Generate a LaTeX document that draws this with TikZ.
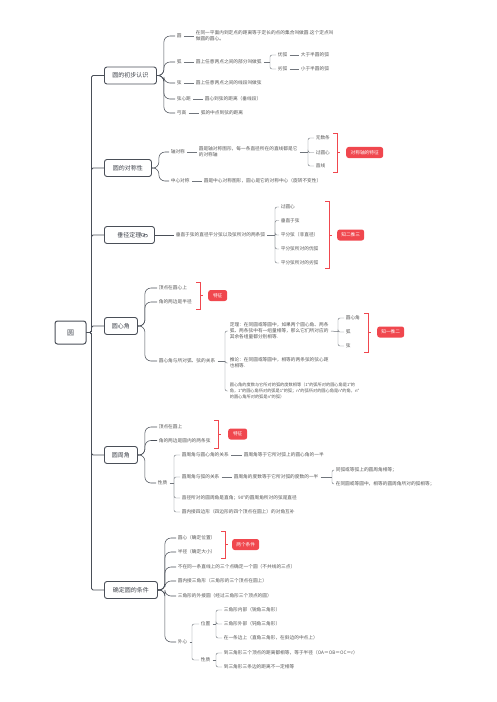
\documentclass[tikz,border=0pt]{standalone}
\usepackage{fontspec}
\setmainfont{Noto Sans CJK SC}
\definecolor{dk}{HTML}{4A4F58}
\definecolor{ln}{HTML}{70757C}
\definecolor{tx}{HTML}{555555}
\definecolor{rd}{HTML}{F0474E}
\begin{document}
\begin{tikzpicture}[x=1pt,y=-1pt,
  l1/.style={draw=dk, line width=0.9pt, rounded corners=2.5pt, fill=white, text=dk!85!black, font=\fontsize{6}{7}\selectfont, minimum height=17pt, inner xsep=0pt, anchor=west},
  t/.style={anchor=west, inner sep=0.6pt, text=tx, font=\fontsize{4.7}{6}\selectfont, align=left},
  tag/.style={fill=rd, text=white, rounded corners=2.5pt, font=\fontsize{4.7}{6}\selectfont, inner xsep=0pt, minimum height=9pt, anchor=west},
  trunk/.style={draw=dk, line width=0.9pt, rounded corners=1.5pt},
  c1/.style={draw=dk, line width=0.55pt, rounded corners=6pt, shorten >=1pt},
  c2/.style={draw=ln, line width=0.45pt, rounded corners=2pt, shorten >=1pt},
  lk/.style={draw=ln, line width=0.5pt, shorten <=1.5pt, shorten >=1.5pt},
  lks/.style={draw=ln, line width=0.5pt, shorten <=1.5pt},
  brk/.style={draw=rd, line width=0.7pt}]
\useasboundingbox (0,0) rectangle (497,702);

% root and level 1
\node[draw=dk, line width=1pt, rounded corners=2.5pt, fill=white, minimum width=31pt, minimum height=23pt, font=\fontsize{7}{8}\selectfont, text=dk] (root) at (70.5,332.5) {圆};
\node[l1, minimum width=52pt] (b1) at (104,75.5) {圆的初步认识};
\node[l1, minimum width=47pt] (b2) at (104,168) {圆的对称性};
\node[l1, minimum width=50pt] (b3) at (104,235) {垂径定理\hspace{14pt}};
\node[l1, minimum width=33pt] (b4) at (104,326) {圆心角};
\node[l1, minimum width=33pt] (b5) at (104,455) {圆周角};
\node[l1, minimum width=53pt] (b6) at (104,590) {确定圆的条件};
\foreach \b in {b1,b2,b3,b4,b5,b6} \draw[trunk] (root.east) -- ++(5,0) |- (\b.west);
% link icon
\draw[dk, line width=0.45pt, rounded corners=1pt] (141,233.5) rectangle (145,236.2);
\draw[dk, line width=0.45pt, rounded corners=1pt] (143.5,234.3) rectangle (147.5,237);

% ---------- section 1
\node[t] (n11) at (176,36) {圆};
\node[t] (d11) at (195,36) {在同一平面内到定点的距离等于定长的点的集合叫做圆.这个定点叫\\做圆的圆心。};
\node[t] (n12) at (176,62) {弧};
\node[t] (d12) at (195,62) {圆上任意两点之间的部分叫做弧};
\coordinate (s12) at (270,62);
\node[t] (n12a) at (277,55) {优弧};
\node[t] (n12b) at (277,69) {劣弧};
\node[t] (d12a) at (300,55) {大于半圆的弧};
\node[t] (d12b) at (300,69) {小于半圆的弧};
\node[t] (n13) at (176,83) {弦};
\node[t] (d13) at (195,83) {圆上任意两点之间的线段叫做弦};
\node[t] (n14) at (176,99) {弦心距};
\node[t] (d14) at (204,99) {圆心到弦的距离（垂线段）};
\node[t] (n15) at (176,113) {弓高};
\node[t] (d15) at (200,113) {弧的中点到弦的距离};
\foreach \c in {n11,n12,n13,n14,n15} \draw[c1] (b1.east) -- ++(7,0) |- (\c.west);
\draw[lk] (n11.east) -- (d11.west);
\draw[lk] (n12.east) -- (d12.west);
\draw[lk] (n13.east) -- (d13.west);
\draw[lk] (n14.east) -- (d14.west);
\draw[lk] (n15.east) -- (d15.west);
\draw[lks] (d12.east) -- (s12);
\draw[c2] (s12) |- (n12a.west);
\draw[c2] (s12) |- (n12b.west);
\draw[lk] (n12a.east) -- (d12a.west);
\draw[lk] (n12b.east) -- (d12b.west);

% ---------- section 2
\node[t] (n21) at (170,152) {轴对称};
\node[t] (d21) at (198,152) {圆是轴对称图形，每一条直径所在的直线都是它\\的对称轴};
\coordinate (s21) at (308,152);
\node[t] (n21a) at (315,138) {无数条};
\node[t] (n21b) at (315,152.5) {过圆心};
\node[t] (n21c) at (315,166) {直线};
\node[tag, minimum width=37pt] (r21) at (346,152.5) {对称轴的特征};
\node[t] (n22) at (170,181) {中心对称};
\node[t] (d22) at (203,181) {圆是中心对称图形，圆心是它的对称中心（旋转不变性）};
\foreach \c in {n21,n22} \draw[c1] (b2.east) -- ++(7,0) |- (\c.west);
\draw[lk] (n21.east) -- (d21.west);
\draw[lk] (n22.east) -- (d22.west);
\draw[lks] (d21.east) -- (s21);
\foreach \c in {n21a,n21b,n21c} \draw[c2] (s21) |- (\c.west);
\draw[brk] (333,133) -- (337,133) -- (337,172) -- (333,172);
\draw[brk] (337,152.5) -- (340,152.5);

% ---------- section 3
\node[t] (d31) at (175,235) {垂直于弦的直径平分弦以及弦所对的两条弧};
\coordinate (s31) at (275,235);
\node[t] (n31) at (280,207) {过圆心};
\node[t] (n32) at (280,220.5) {垂直于弦};
\node[t] (n33) at (280,235) {平分弦（非直径）};
\node[t] (n34) at (280,249) {平分弦所对的优弧};
\node[t] (n35) at (280,263) {平分弦所对的劣弧};
\node[tag, minimum width=27pt] (r31) at (337,235) {知二推三};
\draw[c1] (b3.east) -- (d31.west);
\draw[lks] (d31.east) -- (s31);
\foreach \c in {n31,n32,n33,n34,n35} \draw[c2] (s31) |- (\c.west);
\draw[brk] (325,201) -- (329,201) -- (329,268) -- (325,268);
\draw[brk] (329,235) -- (332,235);

% ---------- section 4
\node[t] (n41) at (158,288) {顶点在圆心上};
\node[t] (n42) at (158,302) {角的两边是半径};
\node[tag, minimum width=19pt] (r41) at (208,295.5) {特征};
\node[t] (n43) at (158,361) {圆心角与所对弧、弦的关系};
\coordinate (s43) at (225,361);
\node[t] (d44) at (229,331) {定理：在同圆或等圆中，如果两个圆心角、两条\\弧、两条弦中有一组量相等，那么它们所对应的\\其余各组量都分别相等.};
\coordinate (s44) at (338,331.5);
\node[t] (n44a) at (345,318) {圆心角};
\node[t] (n44b) at (345,332) {弧};
\node[t] (n44c) at (345,346) {弦};
\node[tag, minimum width=27pt] (r44) at (377,332) {知一推二};
\node[t] (d45) at (229,363) {推论：在同圆或等圆中，相等的两条弦的弦心距\\也相等.};
\node[t, font=\fontsize{4.2}{5.8}\selectfont] (d46) at (229,391) {圆心角的度数与它所对的弧的度数相等（1°的弧所对的圆心角是1°的\\角，1°的圆心角所对的弧是1°的弧；n°的弧所对的圆心角是n°的角，n°\\的圆心角所对的弧是n°的弧）};
\foreach \c in {n41,n42,n43} \draw[c1] (b4.east) -- ++(7,0) |- (\c.west);
\draw[brk] (196,282) -- (200,282) -- (200,309) -- (196,309);
\draw[brk] (200,295.5) -- (203,295.5);
\draw[lks] (n43.east) -- (s43);
\foreach \c in {d44,d45,d46} \draw[c2] (s43) |- (\c.west);
\draw[lks] (d44.east) -- (s44);
\foreach \c in {n44a,n44b,n44c} \draw[c2] (s44) |- (\c.west);
\draw[brk] (364,313) -- (368,313) -- (368,352) -- (364,352);
\draw[brk] (368,332) -- (371,332);

% ---------- section 5
\node[t] (n51) at (158,427) {顶点在圆上};
\node[t] (n52) at (158,440.5) {角的两边是圆内的两条弦};
\node[tag, minimum width=19pt] (r51) at (228,434) {特征};
\node[t] (n53) at (157,483) {性质};
\coordinate (s53) at (174,483);
\node[t] (n54) at (181,455) {圆周角与圆心角的关系};
\node[t] (d54) at (243,455) {圆周角等于它所对弧上的圆心角的一半};
\node[t] (n55) at (181,477) {圆周角与弧的关系};
\node[t] (d55) at (233,477) {圆周角的度数等于它所对弧的度数的一半};
\coordinate (s55) at (332,477);
\node[t] (n55a) at (335,470) {同弧或等弧上的圆周角相等；};
\node[t] (n55b) at (335,484) {在同圆或等圆中，相等的圆周角所对的弧相等；};
\node[t] (n56) at (181,498) {直径所对的圆周角是直角；90°的圆周角所对的弦是直径};
\node[t] (n57) at (181,512) {圆内接四边形（四边形的四个顶点在圆上）的对角互补};
\foreach \c in {n51,n52,n53} \draw[c1] (b5.east) -- ++(7,0) |- (\c.west);
\draw[brk] (214,420) -- (218,420) -- (218,448) -- (214,448);
\draw[brk] (218,434) -- (221,434);
\draw[lks] (n53.east) -- (s53);
\foreach \c in {n54,n55,n56,n57} \draw[c2] (s53) |- (\c.west);
\draw[lk] (n54.east) -- (d54.west);
\draw[lk] (n55.east) -- (d55.west);
\draw[lks] (d55.east) -- (s55);
\foreach \c in {n55a,n55b} \draw[c2] (s55) |- (\c.west);

% ---------- section 6
\node[t] (n61) at (177,538) {圆心（确定位置）};
\node[t] (n62) at (177,552) {半径（确定大小）};
\node[tag, minimum width=27pt] (r61) at (232,544.5) {两个条件};
\node[t] (n63) at (177,567) {不在同一条直线上的三个点确定一个圆（不共线的三点）};
\node[t] (n64) at (177,581) {圆内接三角形（三角形的三个顶点在圆上）};
\node[t] (n65) at (177,596) {三角形的外接圆（经过三角形三个顶点的圆）};
\node[t] (n66) at (177,642) {外心};
\coordinate (s66) at (192,642);
\node[t] (n67) at (200,624) {位置};
\node[t] (n68) at (200,660) {性质};
\coordinate (s67) at (216,624);
\coordinate (s68) at (216,660);
\node[t] (n67a) at (223,610) {三角形内部（锐角三角形）};
\node[t] (n67b) at (223,624) {三角形外部（钝角三角形）};
\node[t] (n67c) at (223,638) {在一条边上（直角三角形，在斜边的中点上）};
\node[t] (n68a) at (223,653) {到三角形三个顶点的距离都相等，等于半径（OA＝OB＝OC＝r）};
\node[t] (n68b) at (223,667) {到三角形三条边的距离不一定相等};
\foreach \c in {n61,n62,n63,n64,n65,n66} \draw[c1] (b6.east) -- ++(7,0) |- (\c.west);
\draw[brk] (221,531) -- (225,531) -- (225,558) -- (221,558);
\draw[brk] (225,544.5) -- (228,544.5);
\draw[lks] (n66.east) -- (s66);
\foreach \c in {n67,n68} \draw[c2] (s66) |- (\c.west);
\draw[lks] (n67.east) -- (s67);
\draw[lks] (n68.east) -- (s68);
\foreach \c in {n67a,n67b,n67c} \draw[c2] (s67) |- (\c.west);
\foreach \c in {n68a,n68b} \draw[c2] (s68) |- (\c.west);
\end{tikzpicture}
\end{document}
